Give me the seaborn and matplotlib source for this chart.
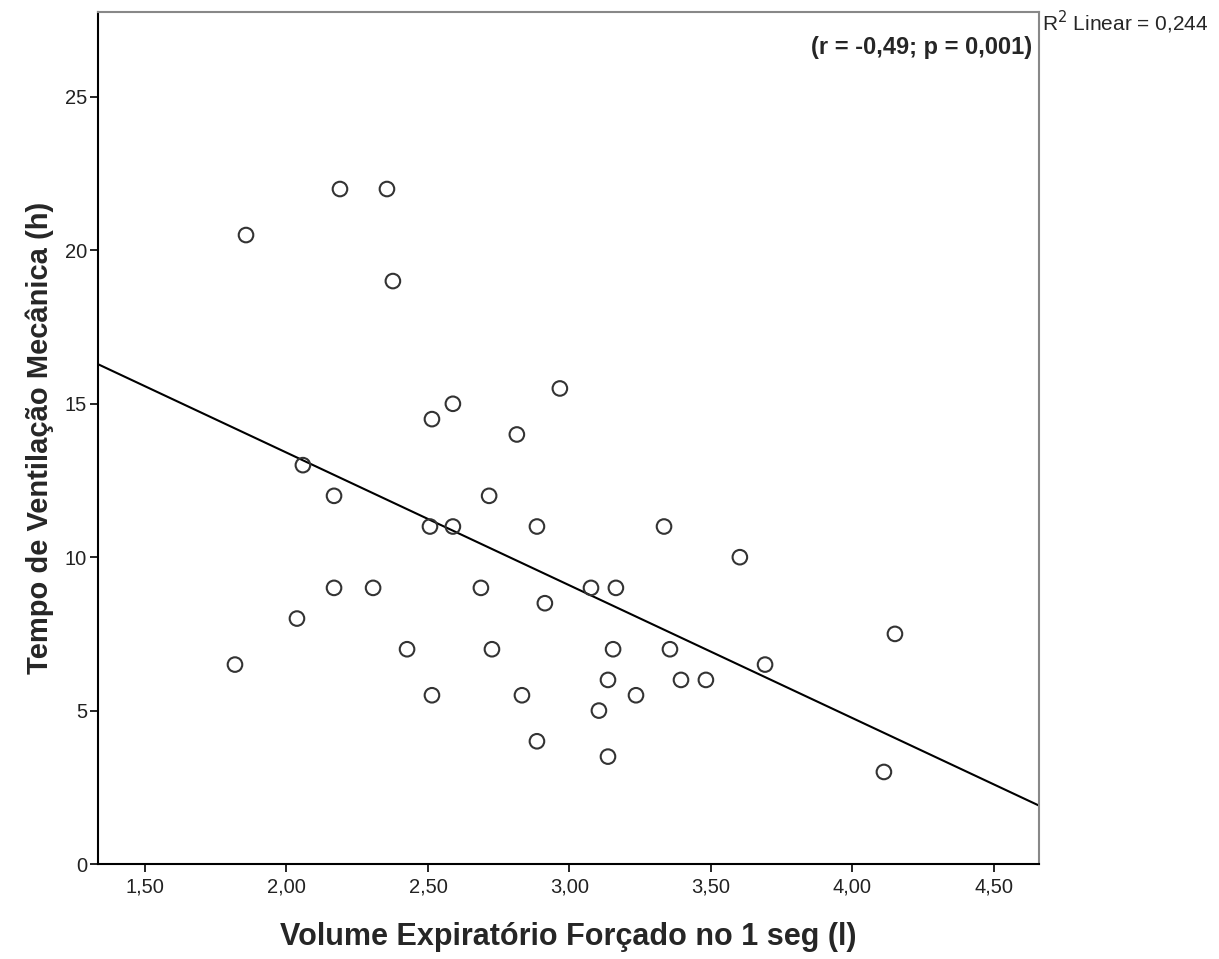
import matplotlib
matplotlib.use("Agg")
import matplotlib.pyplot as plt
import seaborn as sns
import numpy as np

# VEF1 (l) e tempo de ventilação mecânica (h)
vef1 = [1.857, 2.189, 2.355, 2.376, 2.966, 2.588, 2.514, 2.814, 2.058, 2.168,
        2.716, 2.507, 2.588, 2.885, 3.334, 3.602, 2.168, 2.306, 2.687, 3.076,
        3.164, 2.913, 2.037, 2.426, 2.726, 3.154, 3.355, 4.150, 1.818, 3.691,
        3.136, 3.394, 3.482, 2.514, 2.832, 3.235, 3.104, 2.885, 3.136, 4.111]
tempo = [20.5, 22, 22, 19, 15.5, 15, 14.5, 14, 13, 12,
         12, 11, 11, 11, 11, 10, 9, 9, 9, 9,
         9, 8.5, 8, 7, 7, 7, 7, 7.5, 6.5, 6.5,
         6, 6, 6, 5.5, 5.5, 5.5, 5, 4, 3.5, 3]

xticks = [1.5, 2.0, 2.5, 3.0, 3.5, 4.0, 4.5]
xtick_labels = ["1,50", "2,00", "2,50", "3,00", "3,50", "4,00", "4,50"]
yticks = [0, 5, 10, 15, 20, 25]

sns.set_style("white")
plt.rcParams['font.family'] = ['Liberation Sans', 'DejaVu Sans']

fig = plt.figure(figsize=(12.19, 9.59), dpi=100)
ax = fig.add_axes([98 / 1219, 95 / 959, 941 / 1219, 852 / 959])

ax.set_xlim(1.334, 4.659)
ax.set_ylim(0, 27.77)

sns.regplot(x=vef1, y=tempo, ax=ax, ci=None, truncate=False,
            scatter_kws={'s': 110, 'facecolors': 'none', 'edgecolors': '#333333',
                         'linewidths': 1.5, 'alpha': 1, 'zorder': 3},
            line_kws={'color': 'black', 'linewidth': 1.5})

ax.set_xticks(xticks)
ax.set_xticklabels(xtick_labels)
ax.set_yticks(yticks)
ax.tick_params(axis='both', direction='out', length=6, width=1.2, color='black',
               labelsize=14.5, labelcolor='#222222', pad=4)
ax.tick_params(axis='x', bottom=True)
ax.tick_params(axis='y', left=True, pad=2)

for s in ['left', 'bottom']:
    ax.spines[s].set_color('black')
    ax.spines[s].set_linewidth(1.5)
for s in ['top', 'right']:
    ax.spines[s].set_color('#888888')
    ax.spines[s].set_linewidth(1.5)

ax.set_xlabel("Volume Expiratório Forçado no 1 seg (l)", fontsize=22,
              fontweight='bold', labelpad=18)
ax.set_ylabel("Tempo de Ventilação Mecânica (h)", fontsize=21,
              fontweight='bold', labelpad=8)

ax.text(0.993, 0.958, "(r = -0,49; p = 0,001)", transform=ax.transAxes,
        ha='right', va='center', fontsize=17, fontweight='bold')
fig.text(1042 / 1219, 1 - 22 / 959, "R$^2$ Linear = 0,244", ha='left',
         va='center', fontsize=15)

fig.savefig("out.png", dpi=100, facecolor='white')
